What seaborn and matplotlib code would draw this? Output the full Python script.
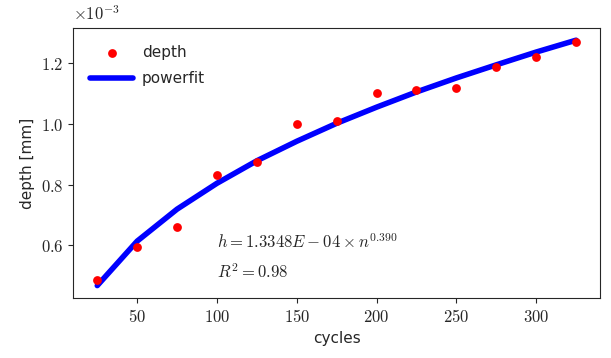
import numpy as np
import pandas as pd
import seaborn as sns
import matplotlib.pyplot as plt
from matplotlib.ticker import FuncFormatter

# measured depth (mm) per cycle count
cycles = [25, 50, 75, 100, 125, 150, 175, 200, 225, 250, 275, 300, 325]
depth = [0.000485, 0.000595, 0.000660, 0.000830, 0.000875, 0.000998, 0.001010,
         0.001102, 0.001110, 0.001116, 0.001185, 0.001220, 0.001268]
# power fit values at the same cycle counts
powerfit = [0.000468, 0.000614, 0.000719, 0.000804, 0.000878, 0.000942, 0.001001,
            0.001054, 0.001104, 0.001150, 0.001193, 0.001235, 0.001274]

df = pd.DataFrame({'cycles': cycles, 'depth': depth, 'powerfit': powerfit})

sns.set_style('ticks')
plt.rcParams['font.family'] = ['DejaVu Sans']
plt.rcParams['mathtext.fontset'] = 'cm'

fig, ax = plt.subplots(figsize=(6.11, 3.58), dpi=100)
sns.scatterplot(data=df, x='cycles', y='depth', color='red', s=40, linewidth=0,
                label='depth', ax=ax, zorder=3)
sns.lineplot(data=df, x='cycles', y='powerfit', color='blue', linewidth=4,
             label='powerfit', ax=ax, zorder=2)

ax.xaxis.set_major_formatter(FuncFormatter(lambda v, p: f'${v:.0f}$'))
ax.yaxis.set_major_formatter(FuncFormatter(lambda v, p: f'${v * 1e3:.1f}$'))
ax.tick_params(labelsize=12)
ax.text(0.0, 1.015, r'$\times 10^{-3}$', transform=ax.transAxes, fontsize=12,
        ha='left', va='bottom')

ax.text(100, 0.000608, r'$h = 1.3348E-04 \times n^{0.390}$', fontsize=12, va='center')
ax.text(100, 0.000510, r'$R^2 = 0.98$', fontsize=12, va='center')

ax.set_xlabel('cycles', fontsize=11)
ax.set_ylabel('depth [mm]', fontsize=11)
ax.legend(loc='upper left', frameon=False, fontsize=11, handlelength=2.8,
          handletextpad=0.6, labelspacing=0.75, borderaxespad=0.7)

fig.subplots_adjust(left=0.12, right=0.982, top=0.922, bottom=0.168)
fig.savefig('out.png', dpi=100)
